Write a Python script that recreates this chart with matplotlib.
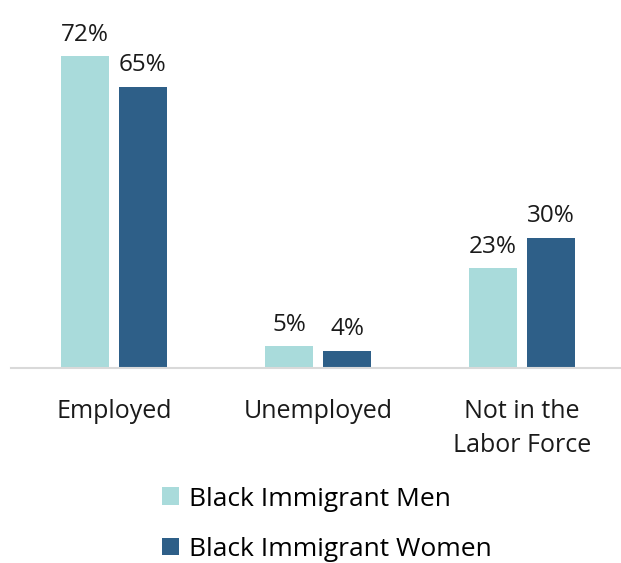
import matplotlib.pyplot as plt
import numpy as np

categories = ["Employed", "Unemployed", "Not in the\nLabor Force"]
men = [72, 5, 23]
women = [65, 4, 30]
series_names = ["Black Immigrant Men", "Black Immigrant Women"]

plt.rcParams['font.family'] = ['Open Sans', 'DejaVu Sans']

fig = plt.figure(figsize=(6.21, 5.63), dpi=100)
ax = fig.add_axes([11/621, 1 - 368/563, 610/621, 368/563])

x = np.arange(len(categories))
off = 0.142
w = 0.235
b1 = ax.bar(x - off, men, w, color='#A9DBDB', label=series_names[0])
b2 = ax.bar(x + off, women, w, color='#2E5F88', label=series_names[1])

for bars, vals in ((b1, men), (b2, women)):
    for r, v in zip(bars, vals):
        ax.annotate(f"{v}%", (r.get_x() + r.get_width()/2, v),
                    xytext=(0, 7), textcoords='offset points',
                    ha='center', va='bottom', fontsize=17.5, color='#1a1a1a')

ax.set_xlim(-0.505, 2.485)
ax.set_ylim(0, 85)
ax.set_xticks(x)
ax.set_xticklabels(categories, fontsize=18, color='#1a1a1a', linespacing=1.5)
ax.tick_params(axis='x', length=0, pad=22)
ax.set_yticks([])
for s in ['top', 'left', 'right']:
    ax.spines[s].set_visible(False)
ax.spines['bottom'].set_color('#d9d9d9')
ax.spines['bottom'].set_linewidth(1.5)

fig.legend(loc='upper left', bbox_to_anchor=(151/621, 1 - 476/563),
           frameon=False, fontsize=19, handlelength=0.65, handleheight=0.65,
           handletextpad=0.4, labelspacing=0.95, borderaxespad=0)

fig.savefig('out.png', dpi=100)
